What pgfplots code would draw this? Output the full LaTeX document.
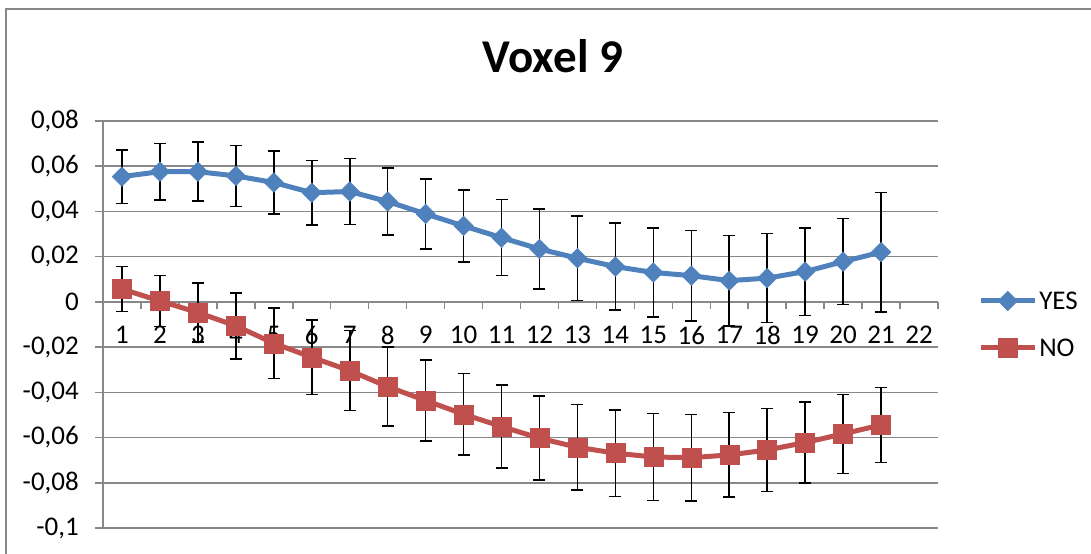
\documentclass[border=0pt]{standalone}
\usepackage{fontspec}
\setmainfont{Carlito}
\usepackage{pgfplots}
\usepackage{pgfplotstable}
\pgfplotsset{compat=1.18}
\definecolor{yesblue}{HTML}{4F81BD}
\definecolor{nored}{HTML}{C0504D}
\definecolor{gridgray}{HTML}{888888}

\pgfplotstableread{
x y e
1 0.0554 0.0118
2 0.0576 0.0125
3 0.0576 0.0130
4 0.0557 0.0135
5 0.0528 0.0139
6 0.0483 0.0143
7 0.0488 0.0146
8 0.0444 0.0149
9 0.0389 0.0154
10 0.0336 0.0160
11 0.0284 0.0168
12 0.0234 0.0177
13 0.0193 0.0186
14 0.0156 0.0193
15 0.0130 0.0198
16 0.0116 0.0200
17 0.0094 0.0200
18 0.0105 0.0197
19 0.0134 0.0194
20 0.0178 0.0190
21 0.0220 0.0264
}\yesdata

\pgfplotstableread{
x y e
1 0.0057 0.0100
2 0.0004 0.0113
3 -0.0047 0.0130
4 -0.0106 0.0146
5 -0.0183 0.0155
6 -0.0245 0.0165
7 -0.0304 0.0177
8 -0.0375 0.0175
9 -0.0436 0.0179
10 -0.0497 0.0180
11 -0.0551 0.0184
12 -0.0603 0.0186
13 -0.0643 0.0189
14 -0.0669 0.0192
15 -0.0686 0.0192
16 -0.0689 0.0191
17 -0.0677 0.0187
18 -0.0655 0.0183
19 -0.0622 0.0178
20 -0.0584 0.0175
21 -0.0544 0.0166
}\nodata

\newcommand{\tickfont}{\fontsize{27bp}{30bp}\selectfont}

\begin{document}
\begin{tikzpicture}
\useasboundingbox (0,0) rectangle (1091bp,554bp);
\draw[gridgray, line width=1.5bp] (6bp,-5bp) -- (6bp,545bp) -- (1100bp,545bp);
\node[font=\fontsize{47bp}{52bp}\selectfont\bfseries, anchor=base, inner sep=0pt] at (553bp,481bp) {Voxel 9};
\begin{axis}[
  at={(103bp,26bp)}, anchor=south west,
  scale only axis, width=835bp, height=407bp,
  xmin=0.5, xmax=22.5, ymin=-0.1, ymax=0.08,
  axis x line=middle, axis y line=left,
  axis line style={gridgray, line width=1.5bp, -},
  hide obscured x ticks=false, hide obscured y ticks=false,
  xtick={1,...,22},
  minor xtick={0.5,1.5,...,22.5},
  major x tick style={draw=none},
  minor tick length=7bp,
  major tick length=8bp,
  tick align=outside,
  tick style={gridgray, line width=1.5bp},
  ytick={-0.1,-0.08,-0.06,-0.04,-0.02,0,0.02,0.04,0.06,0.08},
  ymajorgrids,
  grid style={gridgray, line width=1.5bp},
  /pgf/number format/.cd, use comma, fixed, precision=2, assume math mode=true,
  /pgfplots/.cd,
  xticklabel style={font=\tickfont, inner sep=2bp, yshift=-14bp},
  yticklabel style={font=\tickfont, inner sep=2bp, xshift=-14bp},
  legend style={at={(axis description cs:1.048,0.5)}, anchor=west, draw=none, fill=none,
    font=\tickfont, row sep=24bp, inner sep=0pt},
  legend cell align=left,
  legend image code/.code={\draw[mark repeat=2,mark phase=2,#1] plot coordinates {(0bp,0bp) (27bp,0bp) (54bp,0bp)};},
]
\addplot[yesblue, line width=5bp, mark=square*, mark size=6.9bp,
  mark options={rotate=45, solid, fill=yesblue, draw=yesblue, line width=0.5bp},
  error bars/.cd, y dir=both, y explicit,
  error bar style={black, line width=1.6bp},
  error mark options={rotate=90, black, mark size=6bp, line width=1.6bp}]
  table[x=x, y=y, y error=e] {\yesdata};
\addlegendentry{YES}
\addplot[nored, line width=5bp, mark=square*, mark size=9.5bp,
  mark options={solid, fill=nored, draw=nored, line width=0.5bp},
  error bars/.cd, y dir=both, y explicit,
  error bar style={black, line width=1.6bp},
  error mark options={rotate=90, black, mark size=6bp, line width=1.6bp}]
  table[x=x, y=y, y error=e] {\nodata};
\addlegendentry{NO}
\end{axis}
\end{tikzpicture}
\end{document}
